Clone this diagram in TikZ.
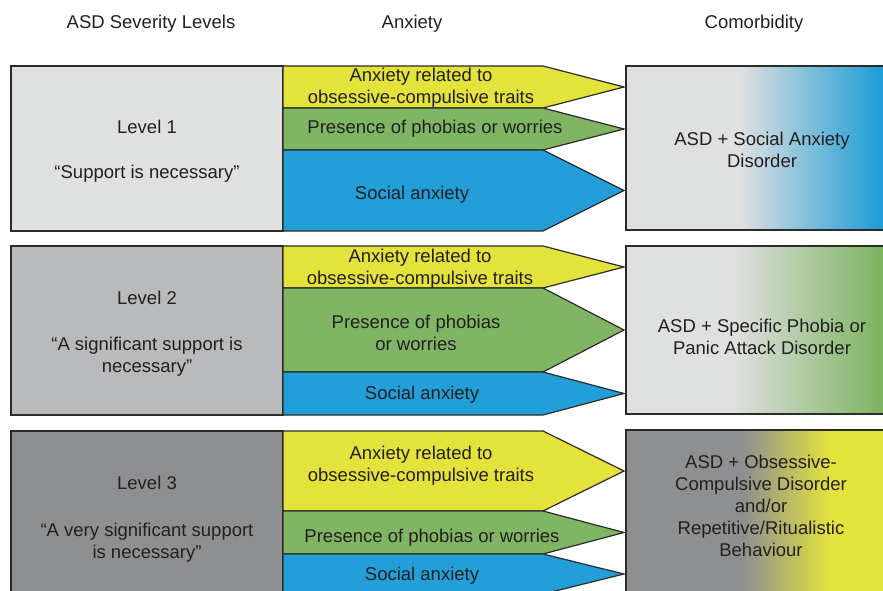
\documentclass[tikz,border=0pt]{standalone}
\usepackage{fontspec}
\setmainfont{Liberation Sans}
\definecolor{txt}{HTML}{231F20}
\definecolor{edge}{HTML}{2B2B2B}
\definecolor{lvA}{HTML}{DFE0E0}
\definecolor{lvB}{HTML}{B8BABC}
\definecolor{lvC}{HTML}{8E8F91}
\definecolor{ayel}{HTML}{E3E33B}
\definecolor{agrn}{HTML}{80B564}
\definecolor{ablu}{HTML}{229FD8}
\newcommand\anxarrow[3]{%
  \filldraw[arrbox, fill=#1] (283,#2) -- (543,#2) -- (624,{(#2+#3)/2}) -- (543,#3) -- (283,#3) -- cycle;}
\begin{document}
\begin{tikzpicture}[x=1pt,y=-1pt,
  every node/.style={font=\fontsize{18.5}{22}\selectfont, text=txt, align=center, inner sep=0pt},
  lvbox/.style={draw=edge, line width=1.2pt},
  arrbox/.style={draw=edge, line width=1.2pt, line join=miter}]
\useasboundingbox (0,0) rectangle (883,591);
\clip (0,0) rectangle (883,591);

% headers
\node (h1) at (151,24) {ASD Severity Levels};
\node (h2) at (412,24) {Anxiety};
\node (h3) at (754,24) {Comorbidity};

% ---------- Row 1 ----------
\filldraw[lvbox, fill=lvA] (11,66) rectangle (283,231);
\anxarrow{ayel}{66}{108}
\anxarrow{agrn}{108}{150}
\anxarrow{ablu}{150}{231}
\fill[lvA] (626,66) rectangle (890,230);
\shade[left color=lvA, right color=ablu] (740,66) rectangle (877,230);
\fill[ablu] (876,66) rectangle (890,230);
\draw[lvbox] (626,66) rectangle (890,230);
\node (l1) at (147,127) {Level 1};
\node (l1q) at (147,174) {“Support is necessary”};
\node (a1y) at (421,88) {Anxiety related to\\obsessive-compulsive traits};
\node (a1g) at (435,129) {Presence of phobias or worries};
\node (a1b) at (412,195) {Social anxiety};
\node (c1) at (762,150) {ASD + Social Anxiety\\Disorder};

% ---------- Row 2 ----------
\filldraw[lvbox, fill=lvB] (11,246) rectangle (283,415);
\anxarrow{ayel}{246}{288}
\anxarrow{agrn}{288}{372}
\anxarrow{ablu}{372}{415}
\fill[lvA] (626,246) rectangle (890,414);
\shade[left color=lvA, right color=agrn] (733,246) rectangle (877,414);
\fill[agrn] (876,246) rectangle (890,414);
\draw[lvbox] (626,246) rectangle (890,414);
\node (l2) at (147,298) {Level 2};
\node (l2q) at (147,357) {“A significant support is\\necessary”};
\node (a2y) at (420,269) {Anxiety related to\\obsessive-compulsive traits};
\node (a2g) at (416,333) {Presence of phobias\\or worries};
\node (a2b) at (422,395) {Social anxiety};
\node (c2) at (762,337) {ASD + Specific Phobia or\\Panic Attack Disorder};

% ---------- Row 3 ----------
\filldraw[lvbox, fill=lvC] (11,431) rectangle (283,610);
\anxarrow{ayel}{431}{511}
\anxarrow{agrn}{511}{554}
\anxarrow{ablu}{554}{594}
\fill[lvC] (626,430) rectangle (890,610);
\shade[left color=lvC, right color=ayel] (743,430) rectangle (830,610);
\fill[ayel] (829,430) rectangle (890,610);
\draw[lvbox] (626,430) rectangle (890,610);
\node (l3) at (147,483) {Level 3};
\node (l3q) at (147,543) {“A very significant support\\is necessary”};
\node (a3y) at (421,466) {Anxiety related to\\obsessive-compulsive traits};
\node (a3g) at (432,538) {Presence of phobias or worries};
\node (a3b) at (422,576) {Social anxiety};
\node (c3) at (761,506) {ASD + Obsessive-\\Compulsive Disorder\\and/or\\Repetitive/Ritualistic\\Behaviour};
\end{tikzpicture}
\end{document}
